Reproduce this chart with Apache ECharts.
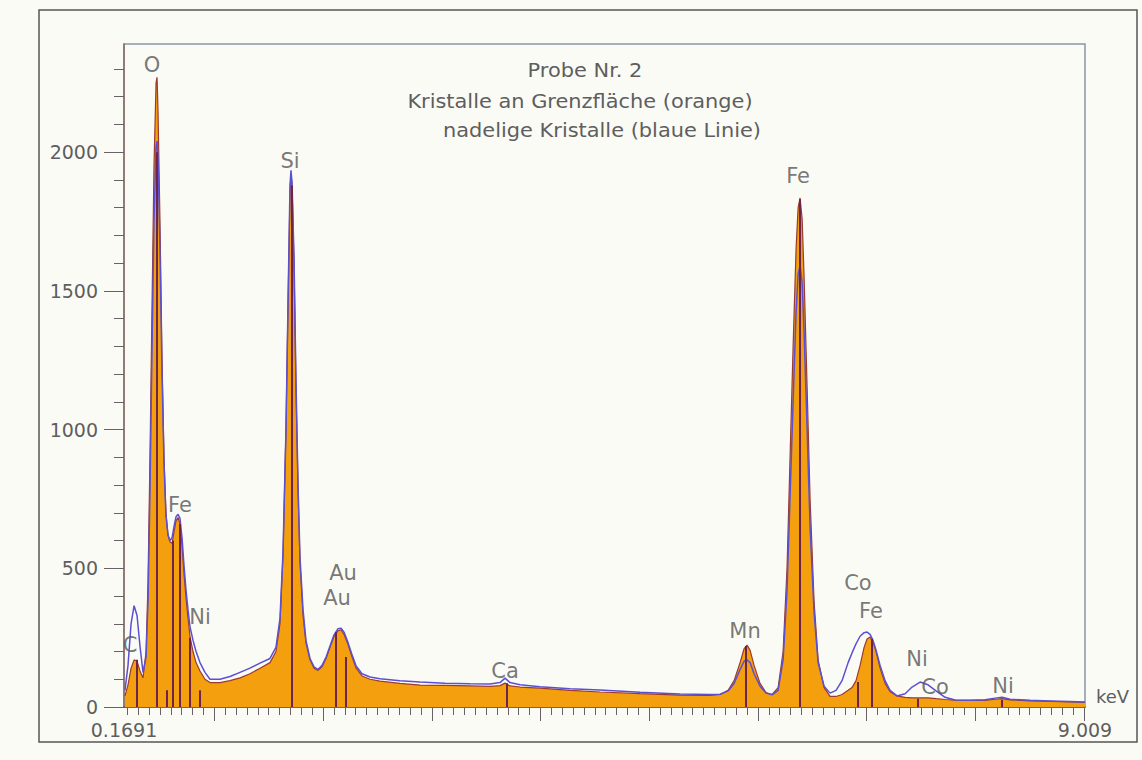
<!DOCTYPE html>
<html>
<head>
<meta charset="utf-8">
<script src="https://cdn.jsdelivr.net/npm/echarts@6/dist/echarts.min.js"></script>
<style>
  html, body { margin: 0; padding: 0; background: #fbfbf6; }
  #chart { width: 1142px; height: 760px; }
</style>
</head>
<body>
<div id="chart"></div>
<script>
// energy (keV) and counts
let keV = [0.178, 0.206, 0.234, 0.262, 0.289, 0.316, 0.344, 0.372, 0.390, 0.408, 0.427, 0.445, 0.464, 0.473, 0.482, 0.500, 0.519, 0.537, 0.555, 0.574, 0.592, 0.611, 0.629, 0.647, 0.666, 0.684, 0.703, 0.721, 0.740, 0.758, 0.776, 0.804, 0.832, 0.868, 0.914, 0.960, 1.052, 1.144, 1.236, 1.328, 1.420, 1.512, 1.567, 1.604, 1.632, 1.659, 1.678, 1.696, 1.705, 1.715, 1.733, 1.751, 1.770, 1.788, 1.816, 1.843, 1.880, 1.917, 1.954, 1.991, 2.028, 2.064, 2.101, 2.138, 2.166, 2.193, 2.230, 2.267, 2.304, 2.359, 2.432, 2.524, 2.708, 2.892, 3.122, 3.352, 3.536, 3.628, 3.674, 3.720, 3.812, 3.996, 4.272, 4.548, 4.916, 5.284, 5.560, 5.652, 5.726, 5.781, 5.836, 5.873, 5.900, 5.928, 5.965, 6.020, 6.075, 6.131, 6.186, 6.232, 6.268, 6.296, 6.324, 6.351, 6.370, 6.388, 6.407, 6.425, 6.453, 6.480, 6.517, 6.554, 6.609, 6.664, 6.719, 6.774, 6.830, 6.866, 6.903, 6.940, 6.977, 7.004, 7.032, 7.059, 7.087, 7.124, 7.170, 7.216, 7.280, 7.354, 7.418, 7.492, 7.565, 7.639, 7.722, 7.814, 7.952, 8.090, 8.182, 8.246, 8.320, 8.504, 8.688, 8.872, 9.009];

// Kristalle an Grenzfläche (orange)
let orange = [40, 80, 140, 170, 165, 130, 105, 200, 450, 900, 1450, 1950, 2250, 2270, 2150, 1750, 1250, 900, 700, 620, 595, 590, 630, 670, 683, 660, 580, 480, 390, 320, 255, 200, 160, 130, 100, 88, 88, 95, 105, 120, 140, 160, 200, 300, 550, 1000, 1450, 1850, 1925, 1880, 1600, 1150, 780, 520, 330, 230, 170, 140, 132, 145, 175, 215, 255, 275, 278, 262, 225, 180, 140, 112, 100, 93, 85, 79, 78, 76, 74, 77, 86, 76, 72, 68, 60, 54, 48, 43, 42, 45, 60, 95, 160, 210, 223, 205, 150, 85, 52, 45, 70, 200, 500, 900, 1300, 1650, 1800, 1835, 1760, 1550, 1150, 750, 380, 170, 70, 38, 38, 45, 60, 70, 95, 150, 215, 245, 252, 235, 200, 140, 85, 55, 40, 35, 33, 33, 33, 30, 27, 25, 24, 24, 28, 30, 26, 22, 20, 18, 17];

// nadelige Kristalle (blaue Linie)
let blue = [60, 150, 300, 365, 330, 220, 125, 180, 380, 780, 1300, 1750, 2020, 2040, 1980, 1650, 1200, 880, 690, 620, 600, 610, 650, 685, 695, 680, 610, 510, 420, 350, 290, 240, 200, 160, 125, 100, 100, 110, 125, 140, 158, 175, 215, 320, 560, 1000, 1460, 1880, 1935, 1890, 1620, 1180, 800, 540, 350, 240, 175, 145, 135, 150, 180, 220, 260, 282, 284, 270, 232, 188, 148, 120, 108, 102, 95, 90, 86, 84, 83, 88, 104, 88, 80, 73, 66, 61, 53, 47, 45, 46, 58, 85, 135, 165, 170, 160, 120, 75, 50, 44, 60, 170, 420, 760, 1100, 1420, 1560, 1590, 1530, 1350, 1000, 650, 340, 160, 75, 50, 60, 95, 160, 195, 228, 255, 268, 270, 262, 240, 205, 150, 95, 60, 40, 48, 72, 90, 80, 58, 35, 25, 24, 26, 32, 35, 28, 24, 22, 20, 18];

// element marker lines: position (keV) and height (counts)
let lineKeV = [0.289, 0.473, 0.565, 0.620, 0.684, 0.776, 0.868, 1.715, 2.120, 2.212, 3.693, 5.891, 6.388, 6.922, 7.050, 7.474, 8.246];
let lineHeight = [170, 2000, 60, 600, 660, 250, 60, 1880, 270, 180, 86, 220, 1830, 90, 245, 30, 25];

// element labels
let labelNames = ['O', 'Si', 'Fe', 'Ni', 'C', 'Au', 'Au', 'Ca', 'Mn', 'Fe', 'Co', 'Fe', 'Ni', 'Co', 'Ni'];
let labelKeV = [0.427, 1.696, 0.684, 0.868, 0.224, 2.184, 2.129, 3.674, 5.882, 6.370, 6.920, 7.040, 7.464, 7.630, 8.256];
let labelCounts = [2316, 1968, 727, 324, 223, 482, 392, 129, 273, 1914, 446, 345, 173, 72, 76];

let titleLines = ['Probe Nr. 2', 'Kristalle an Grenzfläche (orange)', 'nadelige Kristalle (blaue Linie)'];

let xLabels = [0.1691, 9.009];
let xMajor = [1, 2, 3, 4, 5, 6, 7, 8, 9];
let xMinor = [0.2, 0.3, 0.4, 0.5, 0.6, 0.7, 0.8, 0.9, 1.1, 1.2, 1.3, 1.4, 1.5, 1.6, 1.7, 1.8, 1.9, 2.1, 2.2, 2.3, 2.4, 2.5, 2.6, 2.7, 2.8, 2.9, 3.1, 3.2, 3.3, 3.4, 3.5, 3.6, 3.7, 3.8, 3.9, 4.1, 4.2, 4.3, 4.4, 4.5, 4.6, 4.7, 4.8, 4.9, 5.1, 5.2, 5.3, 5.4, 5.5, 5.6, 5.7, 5.8, 5.9, 6.1, 6.2, 6.3, 6.4, 6.5, 6.6, 6.7, 6.8, 6.9, 7.1, 7.2, 7.3, 7.4, 7.5, 7.6, 7.7, 7.8, 7.9, 8.1, 8.2, 8.3, 8.4, 8.5, 8.6, 8.7, 8.8, 8.9];
let yMajor = [0, 500, 1000, 1500, 2000];
let yMinor = [100, 200, 300, 400, 600, 700, 800, 900, 1100, 1200, 1300, 1400, 1600, 1700, 1800, 1900, 2100, 2200, 2300];

let font = '"DejaVu Sans", Verdana, sans-serif';
let textColor = '#5e5e5e';
let tickColor = '#6a6068';

let chart = echarts.init(document.getElementById('chart'), null, { renderer: 'svg' });

let orangeData = keV.map((k, i) => [k, orange[i]]);
let blueData = keV.map((k, i) => [k, blue[i]]);
let markerData = lineKeV.map((k, i) => [{ coord: [k, 0] }, { coord: [k, lineHeight[i]] }]);
let labelData = labelNames.map((n, i) => ({ name: n, value: [labelKeV[i], labelCounts[i]] }));

let gridBox = { left: 124, right: 57, top: 44, bottom: 53 };

function titleText(text, x, y) {
	return {
		type: 'text', x: x, y: y, scaleX: 1.1,
		style: { text: text, font: '19px ' + font, fill: textColor, align: 'center', verticalAlign: 'middle' }
	};
}

let option = {
	backgroundColor: '#fbfbf6',
	animation: false,
	grid: [
		Object.assign({ show: true, borderColor: '#8d94aa', borderWidth: 1.5 }, gridBox),
		// second grid on the same rect, only for the minor ticks
		Object.assign({ show: false }, gridBox)
	],
	xAxis: [{
		gridIndex: 0,
		type: 'value',
		min: 0.1691,
		max: 9.009,
		name: 'keV',
		nameLocation: 'end',
		nameGap: 11,
		nameTextStyle: {
			fontFamily: font,
			fontSize: 18,
			color: textColor,
			align: 'left',
			verticalAlign: 'bottom',
			padding: [0, 0, 2, 0]
		},
		axisLine: { show: true, lineStyle: { color: '#5a5050', width: 1.5 } },
		axisTick: { show: true, inside: false, length: 14, customValues: xMajor, lineStyle: { color: tickColor } },
		axisLabel: {
			customValues: xLabels,
			margin: 13,
			fontFamily: font,
			fontSize: 19,
			color: textColor,
			formatter: v => String(v)
		},
		splitLine: { show: false }
	}, {
		gridIndex: 1,
		type: 'value',
		min: 0.1691,
		max: 9.009,
		position: 'bottom',
		axisLine: { show: false, onZero: false },
		axisTick: { show: true, inside: false, length: 8, customValues: xMinor, lineStyle: { color: tickColor } },
		axisLabel: { show: false },
		splitLine: { show: false }
	}],
	yAxis: [{
		gridIndex: 0,
		type: 'value',
		min: 0,
		max: 2390,
		axisLine: { show: true, lineStyle: { color: '#8a6a60', width: 1.5 } },
		axisTick: { show: true, inside: false, length: 20, customValues: yMajor, lineStyle: { color: tickColor } },
		axisLabel: {
			customValues: yMajor,
			margin: 26,
			fontFamily: font,
			fontSize: 19,
			color: textColor,
			formatter: v => String(v)
		},
		splitLine: { show: false }
	}, {
		gridIndex: 1,
		type: 'value',
		min: 0,
		max: 2390,
		position: 'left',
		axisLine: { show: false, onZero: false },
		axisTick: { show: true, inside: false, length: 10, customValues: yMinor, lineStyle: { color: tickColor } },
		axisLabel: { show: false },
		splitLine: { show: false }
	}],
	graphic: [{
		type: 'rect',
		shape: { x: 39, y: 10, width: 1098, height: 732 },
		style: { fill: 'none', stroke: '#555', lineWidth: 1.5 },
		z: -1
	},
		titleText(titleLines[0], 585, 70),
		titleText(titleLines[1], 580, 101),
		titleText(titleLines[2], 602, 130)
	],
	series: [{
		name: 'Kristalle an Grenzfläche',
		type: 'line',
		data: orangeData,
		symbol: 'none',
		lineStyle: { color: '#9a3a30', width: 1.2 },
		areaStyle: { color: '#f4a00e', opacity: 1 },
		z: 2,
		markLine: {
			silent: true,
			symbol: 'none',
			label: { show: false },
			lineStyle: { color: '#6e2446', width: 2, type: 'solid' },
			data: markerData
		}
	}, {
		name: 'nadelige Kristalle',
		type: 'line',
		data: blueData,
		symbol: 'none',
		lineStyle: { color: '#5b4fd2', width: 1.5 },
		z: 4
	}, {
		name: 'Elemente',
		type: 'scatter',
		data: labelData,
		symbolSize: 0,
		z: 5,
		label: {
			show: true,
			position: 'inside',
			formatter: p => p.name,
			fontFamily: font,
			fontSize: 21,
			color: '#555'
		}
	}]
};

chart.setOption(option);
</script>
</body>
</html>
